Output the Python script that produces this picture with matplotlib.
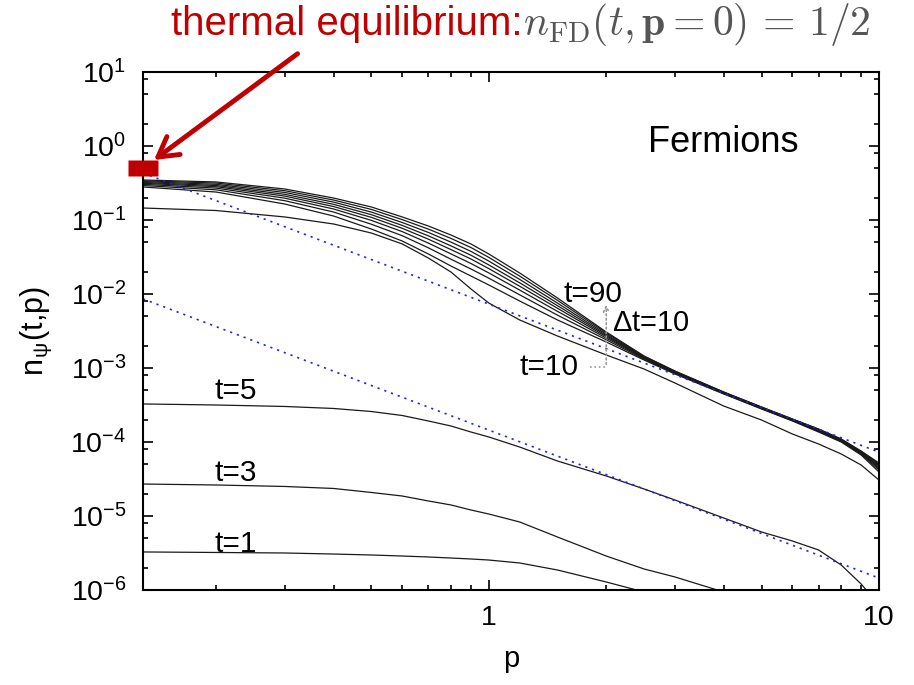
import numpy as np
import matplotlib
matplotlib.use("Agg")
import matplotlib.pyplot as plt
from matplotlib.ticker import LogLocator, NullFormatter

plt.rcParams['font.family'] = ['Liberation Sans', 'DejaVu Sans']
plt.rcParams['mathtext.fontset'] = 'cm'

# momentum grid the curves were read on
p = [0.13, 0.2, 0.3, 0.4, 0.5, 0.6, 0.7, 0.8, 0.9, 1.0, 1.2, 1.5,
     2, 2.5, 3, 4, 5, 6, 7, 8, 9, 10]

# log10 of n_psi(t,p)
log_n_t90 = [-0.459, -0.486, -0.581, -0.703, -0.824, -0.959, -1.081, -1.203, -1.324, -1.459, -1.716,
             -2.054, -2.514, -2.838, -3.041, -3.324, -3.527, -3.689, -3.824, -3.959, -4.122, -4.284]
log_n_t80 = [-0.470, -0.501, -0.604, -0.730, -0.857, -0.995, -1.123, -1.249, -1.372, -1.505, -1.758,
             -2.086, -2.528, -2.843, -3.045, -3.327, -3.530, -3.692, -3.829, -3.964, -4.128, -4.297]
log_n_t70 = [-0.481, -0.518, -0.628, -0.758, -0.893, -1.034, -1.168, -1.299, -1.424, -1.555, -1.803,
             -2.123, -2.545, -2.850, -3.050, -3.331, -3.533, -3.695, -3.833, -3.968, -4.134, -4.312]
log_n_t60 = [-0.493, -0.534, -0.653, -0.788, -0.928, -1.073, -1.214, -1.350, -1.476, -1.607, -1.849,
             -2.158, -2.561, -2.857, -3.054, -3.334, -3.536, -3.698, -3.838, -3.973, -4.141, -4.327]
log_n_t50 = [-0.504, -0.550, -0.677, -0.818, -0.964, -1.112, -1.259, -1.400, -1.527, -1.657, -1.895,
             -2.193, -2.577, -2.864, -3.059, -3.337, -3.540, -3.702, -3.843, -3.978, -4.147, -4.341]
log_n_t40 = [-0.518, -0.569, -0.705, -0.851, -1.005, -1.157, -1.312, -1.458, -1.588, -1.715, -1.947,
             -2.235, -2.596, -2.870, -3.065, -3.341, -3.544, -3.706, -3.849, -3.984, -4.155, -4.358]
log_n_t30 = [-0.534, -0.592, -0.739, -0.892, -1.057, -1.212, -1.376, -1.530, -1.662, -1.786, -2.011,
             -2.286, -2.619, -2.880, -3.072, -3.346, -3.548, -3.710, -3.856, -3.991, -4.164, -4.378]
log_n_t20 = [-0.554, -0.622, -0.784, -0.946, -1.122, -1.284, -1.459, -1.622, -1.757, -1.878, -2.095,
             -2.351, -2.649, -2.892, -3.081, -3.351, -3.554, -3.716, -3.865, -4.000, -4.176, -4.405]
log_n_t10 = [-0.838, -0.872, -0.959, -1.054, -1.176, -1.324, -1.514, -1.703, -1.932, -2.122, -2.351,
             -2.568, -2.824, -3.014, -3.203, -3.514, -3.703, -3.892, -4.027, -4.162, -4.311, -4.514]
log_n_t5 = [-3.486, -3.500, -3.520, -3.547, -3.588, -3.642, -3.716, -3.784, -3.865, -3.932, -4.068,
            -4.257, -4.459, -4.635, -4.784, -5.027, -5.216, -5.338, -5.459, -5.662, -5.919, -6.203]
log_n_t3 = [-4.568, -4.581, -4.601, -4.628, -4.682, -4.730, -4.797, -4.851, -4.919, -4.973, -5.081,
            -5.284, -5.541, -5.716, -5.824, -6.027, -6.27]
log_n_t1 = [-5.486, -5.493, -5.500, -5.514, -5.527, -5.541, -5.554, -5.568, -5.581, -5.595, -5.635,
            -5.730, -5.892, -6.027, -6.135]

late_curves = [log_n_t10, log_n_t20, log_n_t30, log_n_t40, log_n_t50,
               log_n_t60, log_n_t70, log_n_t80, log_n_t90]
early_curves = [log_n_t1, log_n_t3, log_n_t5]

# p^-2 guide lines (end points)
guide_p = [0.13, 10]
guide_upper = [0.432, 7.3e-5]
guide_lower = [8.58e-3, 1.45e-6]

n_equilibrium = 0.5

fig = plt.figure(figsize=(9.14, 6.85), dpi=100)
ax = fig.add_axes([0.1565, 0.1387, 0.8052, 0.7562])

for c in late_curves + early_curves:
    ax.plot(p[:len(c)], 10 ** np.array(c), color='#1a1a1a', lw=0.9)

ax.plot(guide_p, guide_upper, color='#2222ee', ls=(0, (1.3, 3)), lw=1.2)
ax.plot(guide_p, guide_lower, color='#2222ee', ls=(0, (1.3, 3)), lw=1.2)

# red block at p->0 marking the equilibrium value
rect = [(-1, -0.52), (1, -0.52), (1, 0.52), (-1, 0.52), (-1, -0.52)]
ax.plot([p[0]], [n_equilibrium], marker=rect, ms=21, color='#c00000',
        mec='none', clip_on=False, zorder=5)

ax.set_xscale('log')
ax.set_yscale('log')
ax.set_xlim(0.13, 10)
ax.set_ylim(1e-6, 10)

ax.yaxis.set_major_locator(LogLocator(base=10, numticks=20))
ax.xaxis.set_minor_locator(LogLocator(base=10, subs=np.arange(2, 10), numticks=20))
ax.yaxis.set_minor_locator(LogLocator(base=10, subs=(2, 5, 8), numticks=20))
ax.xaxis.set_minor_formatter(NullFormatter())
ax.yaxis.set_minor_formatter(NullFormatter())
ax.set_xticks([1, 10])
ax.set_xticklabels(['1', '10'])

ax.tick_params(which='both', direction='in', top=True, right=True, width=1.2)
ax.tick_params(which='major', length=7, labelsize=20.5)
ax.tick_params(which='minor', length=3.5)
ax.tick_params(axis='y', which='major', pad=12)
ax.tick_params(axis='x', which='major', pad=11)
for s in ax.spines.values():
    s.set_linewidth(1.5)

ax.set_xlabel('p', fontsize=21, labelpad=10)
ax.set_ylabel(r'n$_{\mathdefault{ψ}}$(t,p)', fontsize=22, labelpad=12)

ax.text(4.0, 1.1, 'Fermions', fontsize=26, ha='center', va='center')
ax.text(0.225, 4.9e-4, 't=5', fontsize=21.5, ha='center', va='center')
ax.text(0.225, 3.8e-5, 't=3', fontsize=21.5, ha='center', va='center')
ax.text(0.225, 4.2e-6, 't=1', fontsize=21.5, ha='center', va='center')
ax.text(1.85, 1.0e-2, 't=90', fontsize=21.5, ha='center', va='center')
ax.text(2.07, 4.05e-3, r'$\mathdefault{\Delta}$t=10', fontsize=21, ha='left', va='center')
ax.text(1.43, 1.03e-3, 't=10', fontsize=21.5, ha='center', va='center')

ax.annotate('', xy=(2.0, 7.8e-3), xytext=(2.0, 1.03e-3),
            arrowprops=dict(arrowstyle='->', ls=':', color='#999999', lw=1.2))
ax.plot([1.82, 2.0], [1.03e-3, 1.03e-3], ls=':', color='#999999', lw=1.2)

fig.text(0.187, 0.949, 'thermal equilibrium:', color='#c00000', fontsize=29,
         ha='left', va='baseline')
fig.text(0.572, 0.949, r'$n_{\rm FD}(t,\mathbf{p}=0)\,=\,1/2$', color='#555555',
         fontsize=30, ha='left', va='baseline')
fig.add_artist(matplotlib.patches.FancyArrowPatch(
    (0.328, 0.924), (0.166, 0.764), transform=fig.transFigure,
    arrowstyle='->,head_length=14,head_width=8', color='#c00000', lw=3.5))

fig.savefig('out.png', dpi=100)
